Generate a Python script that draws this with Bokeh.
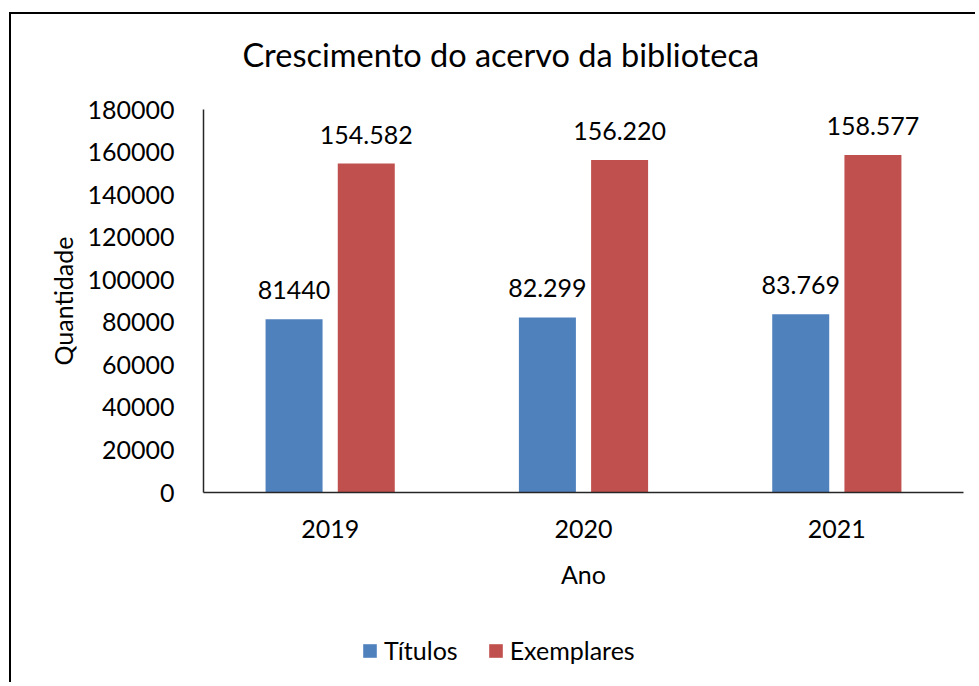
from bokeh.plotting import figure
from bokeh.layouts import column, row
from bokeh.models import (ColumnDataSource, FactorRange, Range1d, FixedTicker,
                          BasicTickFormatter, LabelSet, Legend, LegendItem, Spacer)
from bokeh.core.properties import value
from bokeh.transform import dodge
from bokeh.embed import file_html
from bokeh.resources import INLINE

years = ["2019", "2020", "2021"]
titulos = [81440, 82299, 83769]
exemplares = [154582, 156220, 158577]
titulos_labels = ["81440", "82.299", "83.769"]
exemplares_labels = ["154.582", "156.220", "158.577"]
y_ticks = [0, 20000, 40000, 60000, 80000, 100000, 120000, 140000, 160000, 180000]
title_text = "Crescimento do acervo da biblioteca"
x_label = "Ano"
y_label = "Quantidade"
series_names = ["Títulos", "Exemplares"]

FONT = "Lato"
BLUE = "#4F81BD"
RED = "#C0504D"
W = 966
Y_MAX = 180000

src = ColumnDataSource(data=dict(
    year=years, titulos=titulos, exemplares=exemplares,
    tl=titulos_labels, el=exemplares_labels))
x_range = FactorRange(*years, range_padding=0)

# ---------- title strip ----------
pt = figure(width=W, height=80, x_range=Range1d(0, 1), y_range=Range1d(0, 1),
            output_backend="svg", toolbar_location=None, min_border=0,
            x_axis_type=None, y_axis_type=None)
pt.outline_line_color = None
pt.xgrid.visible = False
pt.ygrid.visible = False
pt.title.text = title_text
pt.title.text_font = FONT
pt.title.text_font_size = "32.5px"
pt.title.text_font_style = "normal"
pt.title.text_color = "black"
pt.title.align = "left"
pt.title.offset = 39
pt.title.standoff = 37
pt.title.vertical_align = "bottom"
pt.styles = {"border-left": "2px solid black", "border-top": "2px solid black"}

# ---------- chart ----------
p = figure(width=W, height=511, x_range=x_range,
           y_range=Range1d(0, Y_MAX), output_backend="svg", toolbar_location=None,
           min_border_left=192, min_border_right=14, min_border_top=17,
           min_border_bottom=111)
p.styles = {"border-left": "2px solid black"}

r1 = p.vbar(x=dodge("year", -0.1425, range=x_range), top="titulos", width=0.225,
            source=src, fill_color=BLUE, line_color=None)
r2 = p.vbar(x=dodge("year", 0.1425, range=x_range), top="exemplares", width=0.225,
            source=src, fill_color=RED, line_color=None)

for col, lab, off in (("titulos", "tl", -0.1425), ("exemplares", "el", 0.1425)):
    ls = LabelSet(x=dodge("year", off, range=x_range), y=col, text=lab, source=src,
                  text_align="center", text_baseline="alphabetic", y_offset=20,
                  text_font=value(FONT), text_font_size=value("25px"),
                  text_color="black")
    p.add_layout(ls)

p.xgrid.visible = False
p.ygrid.visible = False
p.outline_line_color = None

for ax in (p.xaxis[0], p.yaxis[0]):
    ax.axis_line_color = "#262626"
    ax.axis_line_width = 1.5
    ax.major_tick_out = 0
    ax.major_tick_in = 0
    ax.minor_tick_out = 0
    ax.minor_tick_in = 0
    ax.major_label_text_font = FONT
    ax.major_label_text_font_size = "25px"
    ax.major_label_text_color = "black"
    ax.axis_label_text_font = FONT
    ax.axis_label_text_font_size = "25px"
    ax.axis_label_text_font_style = "normal"
    ax.axis_label_text_color = "black"

p.xaxis[0].axis_label = x_label
p.xaxis[0].major_label_standoff = 27
p.xaxis[0].axis_label_standoff = 18
p.yaxis[0].axis_label = y_label
p.yaxis[0].ticker = FixedTicker(ticks=y_ticks)
p.yaxis[0].formatter = BasicTickFormatter(use_scientific=False)
p.yaxis[0].major_label_standoff = 29
p.yaxis[0].axis_label_standoff = 6

# ---------- legend strip ----------
# same series again, with a y range that lies wholly above the data so the bars
# stay out of view (below the strip) and only their legend swatches show
pl = figure(width=W, height=79, x_range=x_range, y_range=Range1d(10 * Y_MAX, 11 * Y_MAX),
            output_backend="svg", toolbar_location=None, min_border=0,
            x_axis_type=None, y_axis_type=None)
pl.outline_line_color = None
pl.xgrid.visible = False
pl.ygrid.visible = False
pl.styles = {"border-left": "2px solid black"}
l1 = pl.vbar(x=dodge("year", -0.1425, range=x_range), top="titulos", width=0.225,
             source=src, fill_color=BLUE, line_color=None)
l2 = pl.vbar(x=dodge("year", 0.1425, range=x_range), top="exemplares", width=0.225,
             source=src, fill_color=RED, line_color=None)

legend = Legend(items=[LegendItem(label=series_names[0], renderers=[l1]),
                       LegendItem(label=series_names[1], renderers=[l2])],
                orientation="horizontal", location=(158, 17),
                glyph_width=17, glyph_height=17, label_standoff=6, spacing=29,
                padding=0, margin=0, border_line_color=None, background_fill_alpha=0,
                label_text_font=FONT, label_text_font_size="25px", label_text_color="black")
pl.add_layout(legend, "center")

layout = column(Spacer(width=W, height=12),
                row(Spacer(width=9, height=670), column(pt, p, pl)))

open("out.html", "w").write(file_html(layout, INLINE))
